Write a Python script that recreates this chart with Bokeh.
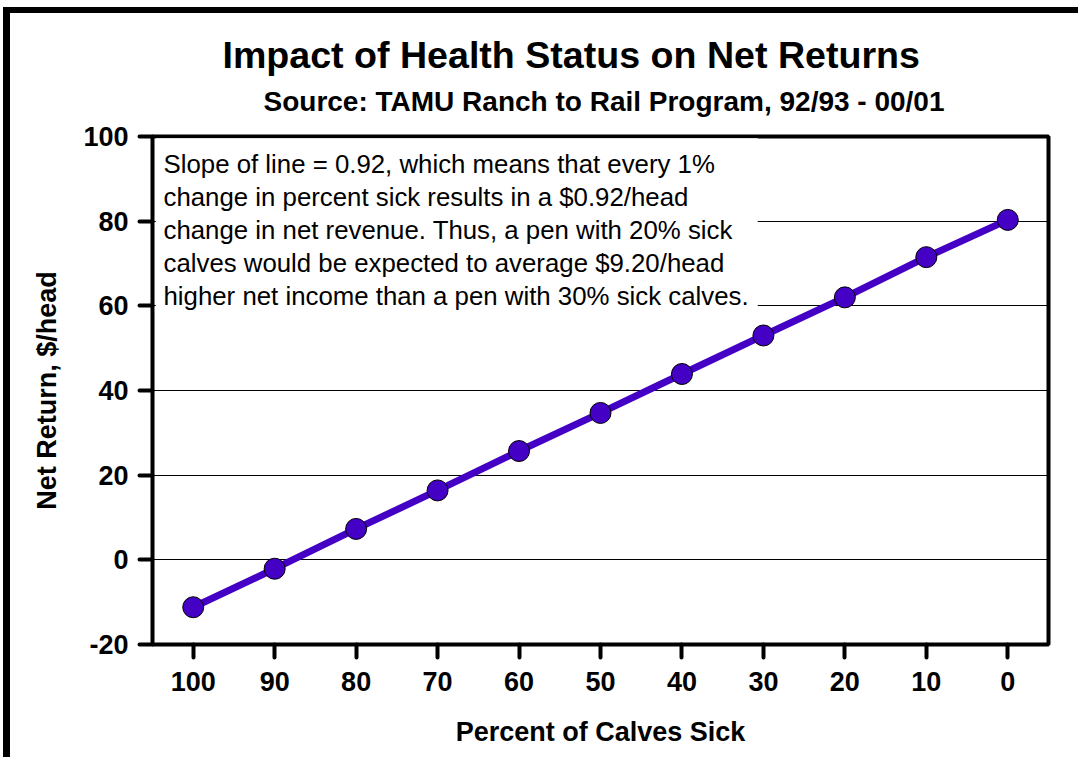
from bokeh.plotting import figure
from bokeh.models import Range1d, FixedTicker, Label, BoxAnnotation, ColumnDataSource, Title
from bokeh.embed import file_html
from bokeh.resources import INLINE

# ---- data ----
pct_sick = [100, 90, 80, 70, 60, 50, 40, 30, 20, 10, 0]
net_return = [-11.2, -2.1, 7.3, 16.4, 25.7, 34.7, 43.9, 53.0, 62.0, 71.5, 80.3]
y_ticks = [-20, 0, 20, 40, 60, 80, 100]
y_tick_labels = ["-20", "0", "20", "40", "60", "80", "100"]
x_ticks = [100, 90, 80, 70, 60, 50, 40, 30, 20, 10, 0]
title_text = "Impact of Health Status on Net Returns"
subtitle_text = "Source: TAMU Ranch to Rail Program, 92/93 - 00/01"
note_lines = [
    "Slope of line = 0.92, which means that every 1%",
    "change in percent sick results in a $0.92/head",
    "change in net revenue.  Thus, a pen with 20% sick",
    "calves would be expected to average $9.20/head",
    "higher net income than a pen with 30% sick calves.",
]

FONT = "Liberation Sans"
PURPLE = "#4400C4"

p = figure(width=1078, height=757, output_backend="svg", toolbar_location=None,
           x_range=Range1d(105, -5), y_range=Range1d(-20, 100),
           min_border_left=152, min_border_right=30, min_border_top=136,
           min_border_bottom=113)
p.background_fill_color = "white"
p.border_fill_alpha = 0
p.outline_line_color = "black"
p.outline_line_width = 4
# outer frame (top and left edges of the slide border)
p.styles = {"box-shadow": "inset 3px 7px 0 0 white, inset 10px 13px 0 0 black",
            "background-color": "white"}

# grid
p.xgrid.grid_line_color = None
p.ygrid.ticker = FixedTicker(ticks=y_ticks)
p.ygrid.grid_line_color = "black"
p.ygrid.grid_line_width = 1

# axes
for ax in (p.xaxis[0], p.yaxis[0]):
    ax.axis_line_color = None
    ax.major_tick_in = 0
    ax.major_tick_out = 13
    ax.major_tick_line_width = 4
    ax.major_tick_line_cap = "round"
    ax.minor_tick_line_color = None
    ax.major_label_text_font = FONT
    ax.major_label_text_font_style = "bold"
    ax.major_label_text_font_size = "27px"
    ax.major_label_text_color = "black"
    ax.axis_label_text_font = FONT
    ax.axis_label_text_font_style = "bold"
    ax.axis_label_text_font_size = "27px"
    ax.axis_label_text_color = "black"

p.xaxis.ticker = FixedTicker(ticks=x_ticks)
p.yaxis.ticker = FixedTicker(ticks=y_ticks)
p.yaxis.major_label_overrides = {t: s for t, s in zip(y_ticks, y_tick_labels)}
p.xaxis.axis_label = "Percent of Calves Sick"
p.yaxis.axis_label = "Net Return, $/head"
p.xaxis.major_label_standoff = 14
p.yaxis.major_label_standoff = 11
p.xaxis.axis_label_standoff = 23
p.yaxis.axis_label_standoff = 18

# white box behind the note
p.add_layout(BoxAnnotation(left=104.6, right=30.7, top=99.6, bottom=58.4,
                           fill_color="white", fill_alpha=1.0, line_color=None))

src = ColumnDataSource(dict(x=pct_sick, y=net_return))
p.line("x", "y", source=src, line_color=PURPLE, line_width=7)
p.scatter("x", "y", source=src, size=21, fill_color=PURPLE, line_color="black",
          line_width=1)

# note text
for i, t in enumerate(note_lines):
    p.add_layout(Label(x=163, y=163 + 33.2 * i, x_units="canvas", y_units="canvas",
                       text=t, text_font=FONT, text_font_size="25.8px",
                       text_align="left", text_baseline="middle", text_color="black"))

# titles
p.title.text = title_text
p.title.align = "left"
p.title.offset = 70
p.title.standoff = -25
p.title.text_font = FONT
p.title.text_font_style = "bold"
p.title.text_font_size = "37.6px"
p.title.text_color = "black"
p.add_layout(Title(text=subtitle_text, align="left", offset=111, standoff=40,
                   text_font=FONT, text_font_style="bold", text_font_size="28px",
                   text_color="black"), "above")

open("out.html", "w").write(file_html(p, INLINE))
